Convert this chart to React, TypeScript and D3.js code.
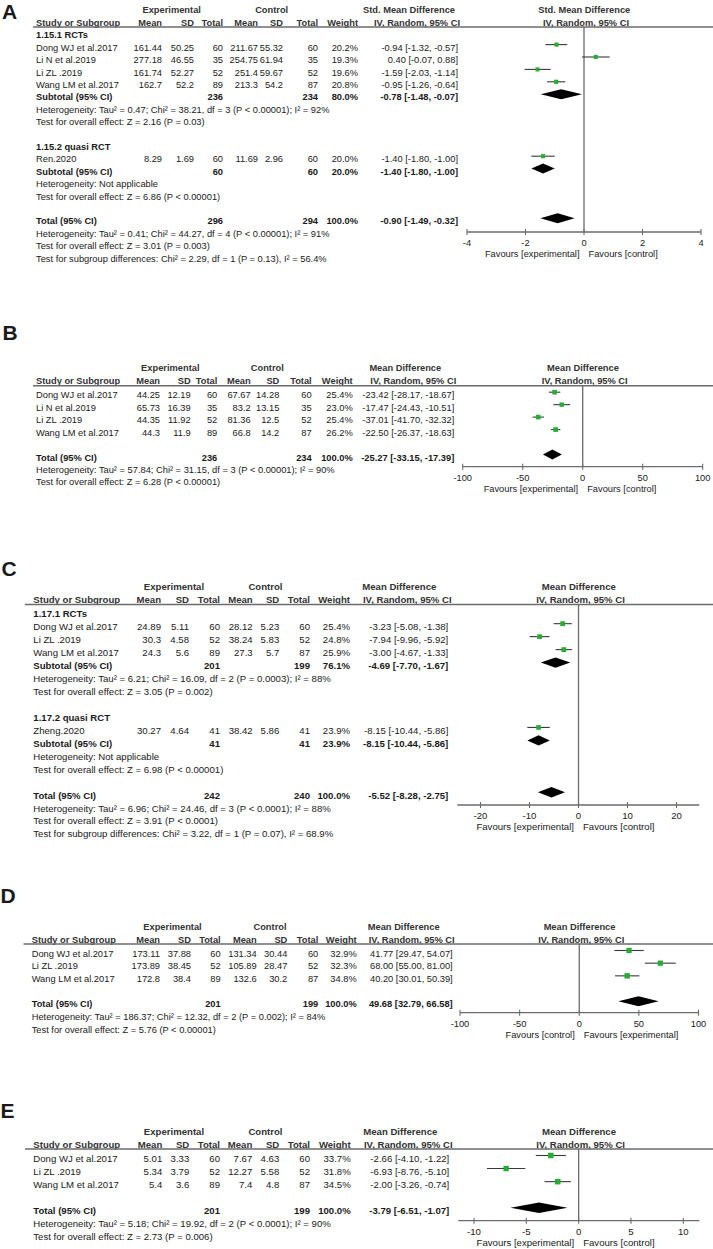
import * as d3 from 'd3';

type Triple = [number, number, number];
type Sum = [number, number, number, number, number, number]; // nE, nC, weight, est, lo, hi

// ---------- Panel A: Std. Mean Difference ----------
const groupsA = ['1.15.1 RCTs', '1.15.2 quasi RCT'];
const studiesA = ['Dong WJ et al.2017', 'Li N et al.2019', 'Li ZL .2019', 'Wang LM et al.2017', 'Ren.2020'];
const groupOfA = [0, 0, 0, 0, 1];
const expA: Triple[] = [[161.44, 50.25, 60], [277.18, 46.55, 35], [161.74, 52.27, 52], [162.7, 52.2, 89], [8.29, 1.69, 60]];
const ctlA: Triple[] = [[211.67, 55.32, 60], [254.75, 61.94, 35], [251.4, 59.67, 52], [213.3, 54.2, 87], [11.69, 2.96, 60]];
const weightA = [20.2, 19.3, 19.6, 20.8, 20.0];
const effectA: Triple[] = [[-0.94, -1.32, -0.57], [0.4, -0.07, 0.88], [-1.59, -2.03, -1.14], [-0.95, -1.26, -0.64], [-1.4, -1.8, -1.0]];
const subtotalA: Sum[] = [[236, 234, 80.0, -0.78, -1.48, -0.07], [60, 60, 20.0, -1.4, -1.8, -1.0]];
const subStatsA = [
  ['Heterogeneity: Tau² = 0.47; Chi² = 38.21, df = 3 (P < 0.00001); I² = 92%', 'Test for overall effect: Z = 2.16 (P = 0.03)'],
  ['Heterogeneity: Not applicable', 'Test for overall effect: Z = 6.86 (P < 0.00001)'],
];
const totalA: Sum = [296, 294, 100.0, -0.9, -1.49, -0.32];
const totalStatsA = [
  'Heterogeneity: Tau² = 0.41; Chi² = 44.27, df = 4 (P < 0.00001); I² = 91%',
  'Test for overall effect: Z = 3.01 (P = 0.003)',
  'Test for subgroup differences: Chi² = 2.29, df = 1 (P = 0.13), I² = 56.4%',
];
const ticksA = [-4, -2, 0, 2, 4];
const favoursA = ['Favours [experimental]', 'Favours [control]'];

// ---------- Panel B ----------
const studiesB = ['Dong WJ et al.2017', 'Li N et al.2019', 'Li ZL .2019', 'Wang LM et al.2017'];
const expB: Triple[] = [[44.25, 12.19, 60], [65.73, 16.39, 35], [44.35, 11.92, 52], [44.3, 11.9, 89]];
const ctlB: Triple[] = [[67.67, 14.28, 60], [83.2, 13.15, 35], [81.36, 12.5, 52], [66.8, 14.2, 87]];
const weightB = [25.4, 23.0, 25.4, 26.2];
const effectB: Triple[] = [[-23.42, -28.17, -18.67], [-17.47, -24.43, -10.51], [-37.01, -41.7, -32.32], [-22.5, -26.37, -18.63]];
const totalB: Sum = [236, 234, 100.0, -25.27, -33.15, -17.39];
const totalStatsB = [
  'Heterogeneity: Tau² = 57.84; Chi² = 31.15, df = 3 (P < 0.00001); I² = 90%',
  'Test for overall effect: Z = 6.28 (P < 0.00001)',
];
const ticksB = [-100, -50, 0, 50, 100];
const favoursB = ['Favours [experimental]', 'Favours [control]'];

// ---------- Panel C ----------
const groupsC = ['1.17.1 RCTs', '1.17.2 quasi RCT'];
const studiesC = ['Dong WJ et al.2017', 'Li ZL .2019', 'Wang LM et al.2017', 'Zheng.2020'];
const groupOfC = [0, 0, 0, 1];
const expC: Triple[] = [[24.89, 5.11, 60], [30.3, 4.58, 52], [24.3, 5.6, 89], [30.27, 4.64, 41]];
const ctlC: Triple[] = [[28.12, 5.23, 60], [38.24, 5.83, 52], [27.3, 5.7, 87], [38.42, 5.86, 41]];
const weightC = [25.4, 24.8, 25.9, 23.9];
const effectC: Triple[] = [[-3.23, -5.08, -1.38], [-7.94, -9.96, -5.92], [-3.0, -4.67, -1.33], [-8.15, -10.44, -5.86]];
const subtotalC: Sum[] = [[201, 199, 76.1, -4.69, -7.7, -1.67], [41, 41, 23.9, -8.15, -10.44, -5.86]];
const subStatsC = [
  ['Heterogeneity: Tau² = 6.21; Chi² = 16.09, df = 2 (P = 0.0003); I² = 88%', 'Test for overall effect: Z = 3.05 (P = 0.002)'],
  ['Heterogeneity: Not applicable', 'Test for overall effect: Z = 6.98 (P < 0.00001)'],
];
const totalC: Sum = [242, 240, 100.0, -5.52, -8.28, -2.75];
const totalStatsC = [
  'Heterogeneity: Tau² = 6.96; Chi² = 24.46, df = 3 (P < 0.0001); I² = 88%',
  'Test for overall effect: Z = 3.91 (P < 0.0001)',
  'Test for subgroup differences: Chi² = 3.22, df = 1 (P = 0.07), I² = 68.9%',
];
const ticksC = [-20, -10, 0, 10, 20];
const favoursC = ['Favours [experimental]', 'Favours [control]'];

// ---------- Panel D ----------
const studiesD = ['Dong WJ et al.2017', 'Li ZL .2019', 'Wang LM et al.2017'];
const expD: Triple[] = [[173.11, 37.88, 60], [173.89, 38.45, 52], [172.8, 38.4, 89]];
const ctlD: Triple[] = [[131.34, 30.44, 60], [105.89, 28.47, 52], [132.6, 30.2, 87]];
const weightD = [32.9, 32.3, 34.8];
const effectD: Triple[] = [[41.77, 29.47, 54.07], [68.0, 55.0, 81.0], [40.2, 30.01, 50.39]];
const totalD: Sum = [201, 199, 100.0, 49.68, 32.79, 66.58];
const totalStatsD = [
  'Heterogeneity: Tau² = 186.37; Chi² = 12.32, df = 2 (P = 0.002); I² = 84%',
  'Test for overall effect: Z = 5.76 (P < 0.00001)',
];
const ticksD = [-100, -50, 0, 50, 100];
const favoursD = ['Favours [control]', 'Favours [experimental]'];

// ---------- Panel E ----------
const studiesE = ['Dong WJ et al.2017', 'Li ZL .2019', 'Wang LM et al.2017'];
const expE: Triple[] = [[5.01, 3.33, 60], [5.34, 3.79, 52], [5.4, 3.6, 89]];
const ctlE: Triple[] = [[7.67, 4.63, 60], [12.27, 5.58, 52], [7.4, 4.8, 87]];
const weightE = [33.7, 31.8, 34.5];
const effectE: Triple[] = [[-2.66, -4.1, -1.22], [-6.93, -8.76, -5.1], [-2.0, -3.26, -0.74]];
const totalE: Sum = [201, 199, 100.0, -3.79, -6.51, -1.07];
const totalStatsE = [
  'Heterogeneity: Tau² = 5.18; Chi² = 19.92, df = 2 (P < 0.0001); I² = 90%',
  'Test for overall effect: Z = 2.73 (P = 0.006)',
];
const ticksE = [-10, -5, 0, 5, 10];
const favoursE = ['Favours [experimental]', 'Favours [control]'];

const FONT = '"Liberation Sans", Arial, sans-serif';
const TXT = '#1a1a1a';
const GREEN = '#27ad35';
const GREY = '#6b6b6b';

interface PanelData {
  letter: string;
  measure: string;
  groups: string[];
  studies: string[];
  groupOf: number[];
  exp: Triple[];
  ctl: Triple[];
  weight: number[];
  effect: Triple[];
  subtotals: Sum[];
  subStats: string[][];
  total: Sum;
  totalStats: string[];
  ticks: number[];
  favours: string[];
}

interface Layout {
  letterX: number;
  letterY: number;
  font: number;
  lineX0: number;
  lineY: number;
  studyX: number;
  cols: number[];
  effectX: number;
  expX: number;
  ctlX: number;
  firstY: number;
  step: number;
  axisY: number;
  axisX: [number, number];
  tickX: [number, number];
}

const panels: { d: PanelData; L: Layout }[] = [
  {
    d: { letter: 'A', measure: 'Std. Mean Difference', groups: groupsA, studies: studiesA, groupOf: groupOfA, exp: expA, ctl: ctlA, weight: weightA, effect: effectA, subtotals: subtotalA, subStats: subStatsA, total: totalA, totalStats: totalStatsA, ticks: ticksA, favours: favoursA },
    L: { letterX: 2, letterY: 18.5, font: 9.3, lineX0: 33, lineY: 27, studyX: 36, cols: [162, 194, 223, 258, 283, 318, 358], effectX: 458, expX: 171.7, ctlX: 271.7, firstY: 35, step: 12.4, axisY: 232, axisX: [467, 701], tickX: [467, 701] },
  },
  {
    d: { letter: 'B', measure: 'Mean Difference', groups: [], studies: studiesB, groupOf: [], exp: expB, ctl: ctlB, weight: weightB, effect: effectB, subtotals: [], subStats: [], total: totalB, totalStats: totalStatsB, ticks: ticksB, favours: favoursB },
    L: { letterX: 2.5, letterY: 340, font: 9.3, lineX0: 33, lineY: 385.8, studyX: 36, cols: [160, 190.7, 217.3, 250.7, 279.3, 311.7, 352.7], effectX: 454.3, expX: 170.3, ctlX: 267.3, firstY: 395, step: 12.45, axisY: 466.7, axisX: [462.7, 702.7], tickX: [462.7, 702.7] },
  },
  {
    d: { letter: 'C', measure: 'Mean Difference', groups: groupsC, studies: studiesC, groupOf: groupOfC, exp: expC, ctl: ctlC, weight: weightC, effect: effectC, subtotals: subtotalC, subStats: subStatsC, total: totalC, totalStats: totalStatsC, ticks: ticksC, favours: favoursC },
    L: { letterX: 1.5, letterY: 575.5, font: 9.6, lineX0: 25, lineY: 604.5, studyX: 33.3, cols: [161, 189, 220, 252.7, 279.3, 310, 350], effectX: 448.3, expX: 174, ctlX: 265.5, firstY: 613.5, step: 12.97, axisY: 805, axisX: [457.3, 699.3], tickX: [480.5, 676.5] },
  },
  {
    d: { letter: 'D', measure: 'Mean Difference', groups: [], studies: studiesD, groupOf: [], exp: expD, ctl: ctlD, weight: weightD, effect: effectD, subtotals: [], subStats: [], total: totalD, totalStats: totalStatsD, ticks: ticksD, favours: favoursD },
    L: { letterX: 0.5, letterY: 903, font: 9.3, lineX0: 23.5, lineY: 944, studyX: 31.7, cols: [160, 191, 220.7, 256.7, 287.3, 318.3, 356.7], effectX: 452.7, expX: 172.5, ctlX: 270, firstY: 953.3, step: 12.67, axisY: 1012.7, axisX: [460, 698.5], tickX: [460, 698.5] },
  },
  {
    d: { letter: 'E', measure: 'Mean Difference', groups: [], studies: studiesE, groupOf: [], exp: expE, ctl: ctlE, weight: weightE, effect: effectE, subtotals: [], subStats: [], total: totalE, totalStats: totalStatsE, ticks: ticksE, favours: favoursE },
    L: { letterX: 0.5, letterY: 1118, font: 9.6, lineX0: 25, lineY: 1149, studyX: 33.3, cols: [162.3, 189.3, 220, 252.3, 279.3, 310, 350.7], effectX: 449.3, expX: 174, ctlX: 265.5, firstY: 1158.3, step: 13.07, axisY: 1220.7, axisX: [458.3, 699.3], tickX: [474, 683.3] },
  },
];

type Row =
  | { kind: 'group'; label: string }
  | { kind: 'study'; i: number }
  | { kind: 'sum'; label: string; s: Sum }
  | { kind: 'note'; text: string }
  | { kind: 'blank' };

function buildRows(d: PanelData): Row[] {
  const rows: Row[] = [];
  if (d.groups.length) {
    d.groups.forEach((g, gi) => {
      rows.push({ kind: 'group', label: g });
      d.studies.forEach((_, i) => {
        if (d.groupOf[i] === gi) rows.push({ kind: 'study', i });
      });
      rows.push({ kind: 'sum', label: 'Subtotal (95% CI)', s: d.subtotals[gi] });
      d.subStats[gi].forEach((t) => rows.push({ kind: 'note', text: t }));
      rows.push({ kind: 'blank' });
    });
  } else {
    d.studies.forEach((_, i) => rows.push({ kind: 'study', i }));
    rows.push({ kind: 'blank' });
  }
  rows.push({ kind: 'sum', label: 'Total (95% CI)', s: d.total });
  d.totalStats.forEach((t) => rows.push({ kind: 'note', text: t }));
  return rows;
}

const fmtCI = (e: number[]) => `${e[0].toFixed(2)} [${e[1].toFixed(2)}, ${e[2].toFixed(2)}]`;

function Panel({ d, L }: { d: PanelData; L: Layout }) {
  const x = d3.scaleLinear().domain([d.ticks[0], d.ticks[d.ticks.length - 1]]).range(L.tickX);
  const k = L.font / 9.3;
  const size = d3.scaleSqrt().domain([0, 100]).range([0, 9.2 * k]);
  const rows = buildRows(d);
  const yc = (i: number) => L.firstY + i * L.step;
  const base = (i: number) => yc(i) + 0.36 * L.font;
  const my = (i: number) => yc(i) - 2.8;
  const x0 = x(0);
  const dh = 5 * k;

  const rt = (xx: number, y: number, t: string | number, bold = false) => (
    <text x={xx} y={y} textAnchor="end" fontWeight={bold ? 'bold' : 'normal'}>{t}</text>
  );

  return (
    <g fontFamily={FONT} fontSize={L.font} fill={TXT}>
      <text x={L.letterX} y={L.letterY} fontSize={21} fontWeight="bold">{d.letter}</text>

      {/* headers */}
      <g fontWeight="bold" fill="#333">
        <text x={L.expX} y={L.lineY - 14.5} textAnchor="middle">Experimental</text>
        <text x={L.ctlX} y={L.lineY - 14.5} textAnchor="middle">Control</text>
        <text x={L.effectX - 49} y={L.lineY - 14.5} textAnchor="middle">{d.measure}</text>
        <text x={x0 + 0.3} y={L.lineY - 14.5} textAnchor="middle">{d.measure}</text>
        <text x={L.studyX} y={L.lineY - 1.5}>Study or Subgroup</text>
        {['Mean', 'SD', 'Total', 'Mean', 'SD', 'Total', 'Weight'].map((h, j) => (
          <text key={j} x={L.cols[j]} y={L.lineY - 1.5} textAnchor="end">{h}</text>
        ))}
        <text x={L.effectX - 41} y={L.lineY - 1.5} textAnchor="middle">IV, Random, 95% CI</text>
        <text x={x0 + 2} y={L.lineY - 1.5} textAnchor="middle">IV, Random, 95% CI</text>
      </g>
      <line x1={L.lineX0} x2={713} y1={L.lineY} y2={L.lineY} stroke={GREY} strokeWidth={1.4} />

      {/* zero line and axis */}
      <line x1={x0} x2={x0} y1={L.lineY} y2={L.axisY} stroke={GREY} strokeWidth={1.3} />
      <line x1={L.axisX[0]} x2={L.axisX[1]} y1={L.axisY} y2={L.axisY} stroke={GREY} strokeWidth={1.3} />
      {d.ticks.map((t) => (
        <g key={t}>
          <line x1={x(t)} x2={x(t)} y1={L.axisY - 3} y2={L.axisY + 3} stroke={GREY} strokeWidth={1.1} />
          <text x={x(t)} y={L.axisY + 13.8} textAnchor="middle">{t}</text>
        </g>
      ))}
      <text x={x0 - 4.5} y={L.axisY + 25} textAnchor="end">{d.favours[0]}</text>
      <text x={x0 + 4.5} y={L.axisY + 25}>{d.favours[1]}</text>

      {rows.map((r, i) => {
        const y = base(i);
        if (r.kind === 'group') {
          return <text key={i} x={L.studyX} y={y} fontWeight="bold">{r.label}</text>;
        }
        if (r.kind === 'note') {
          return <text key={i} x={L.studyX} y={y}>{r.text}</text>;
        }
        if (r.kind === 'study') {
          const e = d.exp[r.i];
          const c = d.ctl[r.i];
          const ef = d.effect[r.i];
          const s = size(d.weight[r.i]);
          const vals = [e[0], e[1], e[2], c[0], c[1], c[2]];
          return (
            <g key={i}>
              <text x={L.studyX} y={y}>{d.studies[r.i]}</text>
              {vals.map((v, j) => <g key={j}>{rt(L.cols[j], y, String(v))}</g>)}
              {rt(L.cols[6], y, `${d.weight[r.i].toFixed(1)}%`)}
              {rt(L.effectX, y, fmtCI(ef))}
              <line x1={x(ef[1])} x2={x(ef[2])} y1={my(i)} y2={my(i)} stroke="#3a3a3a" strokeWidth={1.1} />
              <rect x={x(ef[0]) - s / 2} y={my(i) - s / 2} width={s} height={s} fill={GREEN} />
            </g>
          );
        }
        if (r.kind === 'sum') {
          const s = r.s;
          const cy = my(i);
          const pts = [
            [x(s[4]), cy],
            [x(s[3]), cy - dh],
            [x(s[5]), cy],
            [x(s[3]), cy + dh],
          ];
          return (
            <g key={i}>
              <text x={L.studyX} y={y} fontWeight="bold">{r.label}</text>
              {rt(L.cols[2], y, s[0], true)}
              {rt(L.cols[5], y, s[1], true)}
              {rt(L.cols[6], y, `${s[2].toFixed(1)}%`, true)}
              {rt(L.effectX, y, fmtCI([s[3], s[4], s[5]]), true)}
              <polygon points={pts.map((p) => p.join(',')).join(' ')} fill="#000" />
            </g>
          );
        }
        return null;
      })}
    </g>
  );
}

export default function App() {
  return (
    <svg
      width={713}
      height={1249}
      viewBox="0 0 713 1249"
      style={{ position: 'absolute', left: 0, top: 0, background: '#fff' }}
    >
      <rect width={713} height={1249} fill="#fff" />
      {panels.map((p) => (
        <Panel key={p.d.letter} d={p.d} L={p.L} />
      ))}
    </svg>
  );
}
